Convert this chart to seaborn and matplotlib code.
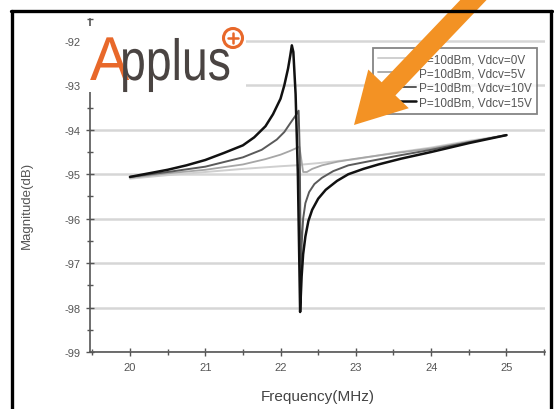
import matplotlib.pyplot as plt
import seaborn as sns
import pandas as pd
from matplotlib.patches import FancyArrow, Ellipse, PathPatch, Rectangle
from matplotlib.lines import Line2D
from matplotlib.ticker import MultipleLocator
from matplotlib.transforms import IdentityTransform, Affine2D
from matplotlib.textpath import TextPath
from matplotlib.font_manager import FontProperties

sns.set_theme(style="white")
plt.rcParams['font.family'] = ['Liberation Sans', 'DejaVu Sans']
plt.rcParams['axes.unicode_minus'] = False

# values
labels = ["P=10dBm, Vdcv=0V", "P=10dBm, Vdcv=5V", "P=10dBm, Vdcv=10V", "P=10dBm, Vdcv=15V"]

freq_0v = [20.0, 20.5, 21.0, 21.5, 22.0, 22.2, 22.3, 22.5, 23.0, 23.5, 24.0, 24.5, 25.0]
mag_0v = [-95.1, -95.02, -94.95, -94.88, -94.82, -94.8, -94.78, -94.75, -94.66, -94.52, -94.4, -94.25, -94.12]

freq_5v = [20.0, 20.5, 21.0, 21.5, 21.8, 22.0, 22.12, 22.2, 22.25, 22.27, 22.3, 22.35, 22.42,
           22.55, 22.75, 23.0, 23.5, 24.0, 24.5, 25.0]
mag_5v = [-95.08, -94.98, -94.9, -94.78, -94.66, -94.56, -94.48, -94.42, -94.38, -94.6, -94.95, -94.95, -94.88,
          -94.8, -94.72, -94.65, -94.53, -94.42, -94.27, -94.12]

freq_10v = [20.0, 20.5, 21.0, 21.5, 21.75, 21.95, 22.05, 22.13, 22.2, 22.24, 22.255, 22.265, 22.27, 22.28,
            22.3, 22.33, 22.38, 22.45, 22.55, 22.7, 22.9, 23.2, 23.6, 24.0, 24.5, 25.0]
mag_10v = [-95.06, -94.95, -94.83, -94.62, -94.45, -94.22, -94.05, -93.85, -93.68, -93.57, -94.5, -96.5, -97.3, -96.6,
           -96.0, -95.65, -95.4, -95.22, -95.08, -94.93, -94.8, -94.7, -94.57, -94.45, -94.28, -94.12]

freq_15v = [20.0, 20.25, 20.5, 20.75, 21.0, 21.25, 21.5, 21.65, 21.8, 21.9, 22.0, 22.05, 22.1, 22.13, 22.15,
            22.17, 22.2, 22.23, 22.26, 22.28, 22.3, 22.33, 22.37, 22.42, 22.5, 22.6, 22.75, 22.9, 23.1, 23.3,
            23.6, 24.0, 24.5, 25.0]
mag_15v = [-95.06, -94.98, -94.9, -94.8, -94.68, -94.52, -94.35, -94.17, -93.92, -93.65, -93.3, -93.0, -92.62, -92.32, -92.1,
           -92.25, -93.2, -95.0, -98.1, -97.3, -96.8, -96.4, -96.05, -95.8, -95.55, -95.35, -95.15, -95.0, -94.88, -94.78,
           -94.65, -94.5, -94.3, -94.12]

series_freq = [freq_0v, freq_5v, freq_10v, freq_15v]
series_mag = [mag_0v, mag_5v, mag_10v, mag_15v]
line_colors = ["#cfcfcf", "#a6a6a6", "#5a5a5a", "#111111"]
line_widths = [1.4, 1.3, 1.4, 1.8]

rows = []
for lab, fx, my in zip(labels, series_freq, series_mag):
    for f, m in zip(fx, my):
        rows.append((lab, f, m))
df = pd.DataFrame(rows, columns=["series", "freq", "mag"])

fig = plt.figure(figsize=(5.54, 4.10), dpi=100)
ax = fig.add_axes([0.1625, 0.139, 0.821, 0.813])

for lab, col, lw in zip(labels, line_colors, line_widths):
    sns.lineplot(data=df[df["series"] == lab], x="freq", y="mag", color=col, linewidth=lw,
                 estimator=None, sort=False, label=lab, ax=ax)

ax.set_xlim(19.47, 25.51)
ax.set_ylim(-99, -91.5)
ax.set_xticks([20, 21, 22, 23, 24, 25])
ax.set_yticks([-99, -98, -97, -96, -95, -94, -93, -92])
ax.xaxis.set_minor_locator(MultipleLocator(0.5))
ax.yaxis.set_minor_locator(MultipleLocator(0.5))
ax.yaxis.grid(True, color="#d6d6d6", linewidth=1.8)
ax.set_axisbelow(True)

for s in ["top", "right"]:
    ax.spines[s].set_visible(False)
for s in ["left", "bottom"]:
    ax.spines[s].set_color("#555555")
    ax.spines[s].set_linewidth(1.2)

ax.tick_params(which="major", direction="inout", length=6, width=1, color="#555555",
               labelsize=8, labelcolor="#555555", pad=4, left=True, bottom=True)
ax.tick_params(which="minor", direction="inout", length=4, width=1, color="#555555",
               left=True, bottom=True)

ax.set_xlabel("Frequency(MHz)", fontsize=11, color="#444444")
ax.set_ylabel("Magnitude(dB)", fontsize=9.5, color="#555555")
ax.xaxis.set_label_coords(0.501, -0.11)
ax.yaxis.set_label_coords(-0.125, 0.444)

leg = ax.legend(loc="upper right", bbox_to_anchor=(0.996, 0.93), fontsize=8.5,
                handlelength=3.2, labelspacing=0.2, borderpad=0.45, fancybox=False,
                frameon=True, handletextpad=0.25)
leg.get_frame().set_edgecolor("#666666")
leg.get_frame().set_linewidth(1.3)
for t in leg.get_texts():
    t.set_color("#555555")

# logo, drawn in pixel units so it can be squeezed; it sits on a white patch
px = IdentityTransform()
fig.add_artist(Rectangle((86, 410 - 93), 160, 66, transform=px, facecolor="white", edgecolor="none"))
logo_font = FontProperties(family="Liberation Sans")
a_path = TextPath((0, 0), "A", size=62, prop=logo_font)
fig.add_artist(PathPatch(a_path, transform=Affine2D().scale(0.95, 1).translate(90, 410 - 81) + px,
                         facecolor="#e8682a", edgecolor="none"))
p_path = TextPath((0, 0), "pplus", size=58, prop=logo_font)
fig.add_artist(PathPatch(p_path, transform=Affine2D().scale(0.8, 1).translate(120, 410 - 81) + px,
                         facecolor="#4a4442", edgecolor="none"))
fig.add_artist(Ellipse((233 / 554, 1 - 39 / 410), 19 / 554, 19 / 410, transform=fig.transFigure,
                       facecolor="none", edgecolor="#e8682a", linewidth=2.2))
fig.add_artist(Line2D([228, 238], [410 - 39, 410 - 39], transform=px, color="#e8682a", linewidth=1.8))
fig.add_artist(Line2D([233, 233], [410 - 44, 410 - 34], transform=px, color="#e8682a", linewidth=1.8))

# frame of the slide
frame_kw = dict(transform=px, color="black", linewidth=2.4)
fig.add_artist(Line2D([12, 12], [0, 398], **frame_kw))
fig.add_artist(Line2D([11, 552], [398, 398], **frame_kw))
fig.add_artist(Line2D([551, 551], [0, 398], **frame_kw))

# orange arrow
fig.add_artist(FancyArrow(482, 418, -128, -134, width=19, head_width=56, head_length=50,
                          length_includes_head=True, transform=px, color="#f39224", linewidth=0))

fig.savefig("out.png", dpi=100)
